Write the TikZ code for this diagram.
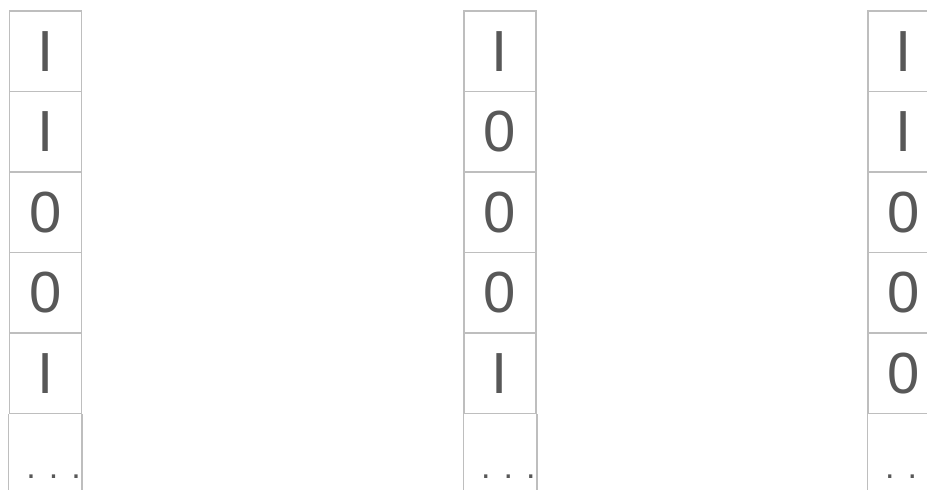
\documentclass[tikz,border=0pt]{standalone}
\usepackage{fontspec}
\setmainfont{Liberation Sans}
\usetikzlibrary{math}
\definecolor{cgrey}{RGB}{190,190,190}
\definecolor{tgrey}{RGB}{88,88,88}

\begin{document}
\begin{tikzpicture}[x=1pt,y=-1pt,
  cell/.style={draw=cgrey, line width=1.5pt, minimum width=72pt, minimum height=80.5pt,
    inner sep=0pt, text=tgrey, font=\fontsize{58}{58}\selectfont},
  dotsbox/.style={inner sep=0pt, text=tgrey, font=\fontsize{34}{34}\selectfont}]
\tikzmath{
\T=11;
\H=80.5;
}
\useasboundingbox (0,0) rectangle (927,490);
\clip (0,0) rectangle (927,490);

%columns
\foreach \c/\x/\bits/\dots in {1/45.25/{I,I,0,0,I}/{.\hspace{13pt}.\hspace{13pt}.},
    2/500/{I,0,0,0,I}/{.\hspace{13pt}.\hspace{13pt}.}, 3/904/{I,I,0,0,0}/{.\hspace{13pt}.}}{
  \foreach \b [count=\r] in \bits {
    \node[cell] (c\c r\r) at (\x,{\T+(\r-0.5)*\H}) {\raisebox{-3pt}{\b}};
  }
  %open cell at the bottom
  \draw[cgrey, line width=1.5pt] (c\c r5.south west) -- ++(0,100);
  \draw[cgrey, line width=1.5pt] (c\c r5.south east) -- ++(0,100);
  \node[dotsbox, anchor=base west] (c\c dots) at (\x-19,478) {\dots};
}

\end{tikzpicture}
\end{document}
